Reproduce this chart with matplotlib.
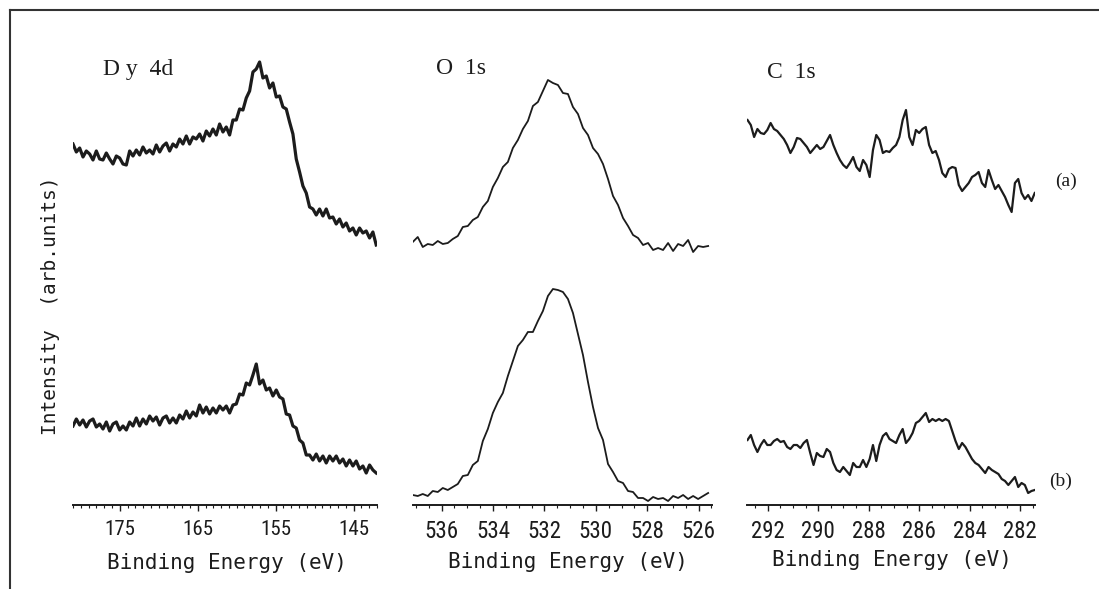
import matplotlib
matplotlib.use('Agg')
import matplotlib.pyplot as plt
import numpy as np
from matplotlib import font_manager
from matplotlib.font_manager import FontProperties
from matplotlib.lines import Line2D
from matplotlib.ticker import FixedLocator, MultipleLocator
import os

# ---------------- data (arb. units) ----------------
dy_energy = np.linspace(181.0, 142.1, 92)
dy_a = [361, 353, 357, 348, 354, 351, 345, 354, 346, 345,
        352, 346, 341, 349, 347, 341, 340, 354, 349, 355,
        350, 358, 352, 355, 351, 360, 353, 359, 362, 354,
        361, 358, 366, 361, 369, 361, 368, 366, 371, 364,
        374, 369, 376, 370, 381, 373, 378, 370, 385, 385,
        396, 395, 407, 414, 433, 436, 443, 427, 429, 417,
        422, 408, 409, 398, 396, 383, 371, 346, 333, 319,
        312, 298, 296, 290, 296, 289, 296, 287, 288, 281,
        286, 278, 282, 274, 277, 270, 277, 272, 274, 267,
        273, 260]
dy_b = [79, 86, 80, 85, 78, 84, 86, 78, 81, 76,
        83, 74, 81, 83, 75, 79, 75, 83, 79, 87,
        79, 86, 81, 89, 84, 88, 80, 87, 89, 82,
        87, 82, 90, 86, 94, 87, 93, 89, 100, 92,
        98, 91, 97, 92, 99, 95, 99, 92, 100, 101,
        111, 110, 122, 120, 130, 141, 121, 125, 115, 117,
        109, 115, 108, 106, 91, 90, 79, 77, 65, 62,
        50, 50, 45, 51, 44, 49, 42, 49, 44, 49,
        42, 46, 39, 45, 39, 44, 36, 39, 32, 40,
        35, 32]

o_energy = np.linspace(537.12, 525.63, 60)
o_a = [263, 268, 258, 261, 260, 264, 261, 262, 266, 269,
       278, 279, 285, 288, 298, 304, 318, 327, 338, 343,
       357, 365, 376, 384, 399, 403, 414, 425, 422, 420,
       412, 411, 398, 391, 377, 370, 357, 351, 341, 326,
       309, 300, 287, 279, 270, 267, 260, 262, 255, 257,
       255, 262, 254, 261, 259, 265, 253, 259, 258, 259]
o_b = [10, 9, 11, 9, 14, 13, 17, 15, 18, 21,
       29, 30, 40, 44, 64, 76, 92, 103, 112, 129,
       144, 159, 165, 173, 173, 184, 194, 209, 216, 215,
       213, 206, 192, 171, 150, 123, 98, 77, 65, 41,
       33, 24, 22, 14, 13, 7, 7, 4, 8, 6,
       7, 4, 9, 7, 10, 6, 9, 6, 9, 12]

c_energy = np.linspace(292.80, 281.42, 88)
c_a = [385, 380, 368, 376, 372, 371, 375, 382, 376, 374,
       370, 366, 360, 352, 358, 367, 366, 362, 358, 352,
       356, 360, 356, 358, 364, 370, 360, 352, 345, 340,
       337, 342, 348, 338, 334, 345, 340, 328, 355, 370,
       365, 352, 354, 353, 357, 360, 368, 385, 395, 368,
       360, 375, 372, 376, 378, 360, 352, 354, 345, 332,
       328, 336, 338, 337, 320, 314, 318, 322, 328, 330,
       333, 322, 318, 335, 325, 316, 320, 314, 308, 300,
       293, 322, 326, 312, 306, 310, 304, 312]
c_b = [65, 70, 60, 53, 60, 65, 60, 60, 64, 66,
       63, 64, 58, 56, 60, 60, 57, 62, 65, 52,
       40, 52, 49, 48, 56, 53, 42, 35, 33, 38,
       34, 30, 42, 38, 38, 45, 38, 46, 60, 44,
       60, 69, 72, 66, 64, 62, 70, 76, 62, 66,
       72, 82, 84, 88, 92, 83, 86, 84, 86, 84,
       86, 84, 74, 64, 56, 62, 58, 52, 46, 42,
       40, 36, 32, 38, 35, 33, 31, 26, 24, 20,
       24, 28, 18, 22, 20, 12, 14, 15]

dy_ticks = [175, 165, 155, 145]
o_ticks = [536, 534, 532, 530, 528, 526]
c_ticks = [292, 290, 288, 286, 284, 282]

panel_titles = ["D y  4d", "O  1s", "C  1s"]
xlabel_text = "Binding Energy (eV)"
ylabel_text = "Intensity  (arb.units)"
curve_labels = ["(a)", "(b)"]

# ---------------- fonts ----------------
def find_condensed():
    prefs = []
    for f in font_manager.fontManager.ttflist:
        base = os.path.basename(f.fname).lower()
        if f.style != 'normal':
            continue
        if f.weight not in (400, 'normal', 'regular'):
            continue
        if ('narrow' in base or 'condensed' in base or
                str(f.stretch) in ('condensed', 'semi-condensed')):
            if 'bold' in base or 'italic' in base or 'oblique' in base or 'light' in base:
                continue
            score = 0
            if 'liberationsansnarrow' in base:
                score = 3
            elif 'robotocondensed' in base:
                score = 2
            elif 'dejavusanscondensed' in base:
                score = 1
            if 'mono' in base or 'serif' in base:
                score -= 5
            prefs.append((score, f.fname))
    if prefs:
        prefs.sort(reverse=True)
        if prefs[0][0] >= 0:
            return prefs[0][1]
    return None

cond = find_condensed()
if cond:
    tick_fp_dy = FontProperties(fname=cond, size=15)
    tick_fp = FontProperties(fname=cond, size=16.5)
else:
    tick_fp_dy = FontProperties(family='Liberation Sans', size=13.5)
    tick_fp = FontProperties(family='Liberation Sans', size=14)

mono = 'DejaVu Sans Mono'
serif = 'Liberation Serif'

W, H = 1099, 589
fig = plt.figure(figsize=(W / 100, H / 100), dpi=100)
fig.patch.set_facecolor('white')

INK = '#1c1c1c'


def fx(px):
    return px / W


def fy(py):
    return 1 - py / H


def make_ax(left, right, xlim, ticks, minor, fp):
    ax = fig.add_axes([fx(left), fy(505), (right - left) / W, 465 / H])
    ax.set_xlim(*xlim)
    ax.set_ylim(0, 465)
    for s in ['left', 'right', 'top']:
        ax.spines[s].set_visible(False)
    ax.spines['bottom'].set_linewidth(1.4)
    ax.spines['bottom'].set_color(INK)
    ax.set_yticks([])
    ax.xaxis.set_major_locator(FixedLocator(ticks))
    ax.xaxis.set_minor_locator(MultipleLocator(minor))
    ax.tick_params(axis='x', which='major', direction='out', length=4, width=1.0,
                   color=INK, pad=7, labelcolor=INK)
    ax.tick_params(axis='x', which='minor', direction='out', length=2.5, width=0.8, color=INK)
    ax.set_xticklabels([str(t) for t in ticks], fontproperties=fp)
    ax.patch.set_alpha(0)
    return ax


ax1 = make_ax(73, 377, (181.0, 142.0), dy_ticks, 1.0, tick_fp_dy)
ax1.plot(dy_energy, dy_a, color=INK, lw=2.3)
ax1.plot(dy_energy, dy_b, color=INK, lw=2.3)

ax2 = make_ax(413, 712, (537.11, 525.48), o_ticks, 0.5, tick_fp)
ax2.plot(o_energy, o_a, color=INK, lw=1.3)
ax2.plot(o_energy, o_b, color=INK, lw=1.3)

ax3 = make_ax(747, 1035, (292.82, 281.41), c_ticks, 0.5, tick_fp)
ax3.plot(c_energy, c_a, color=INK, lw=1.6)
ax3.plot(c_energy, c_b, color=INK, lw=1.6)

# titles
fig.text(fx(103), fy(69), panel_titles[0], family=serif, size=17, color=INK, va='center', ha='left')
fig.text(fx(436), fy(69), panel_titles[1], family=serif, size=17, color=INK, va='center', ha='left')
fig.text(fx(767), fy(72), panel_titles[2], family=serif, size=17, color=INK, va='center', ha='left')

# x labels
for cx, cy in [(227, 563), (568, 562), (892, 560)]:
    fig.text(fx(cx), fy(cy), xlabel_text, family=mono, size=15, color=INK, ha='center', va='center')

# y label
fig.text(fx(51), fy(306), ylabel_text, family=mono, size=14, color=INK, rotation=90,
         ha='center', va='center')

# curve labels
fig.text(fx(1066), fy(181), curve_labels[0], family=serif, size=14, color=INK, ha='center', va='center')
fig.text(fx(1061), fy(481), curve_labels[1], family=serif, size=14, color=INK, ha='center', va='center')

# frame
fig.add_artist(Line2D([fx(10), fx(10)], [fy(10), 0], color='#333333', lw=1.5))
fig.add_artist(Line2D([fx(10), 1], [fy(10), fy(10)], color='#333333', lw=1.5))

fig.savefig('out.png', dpi=100, facecolor='white')
